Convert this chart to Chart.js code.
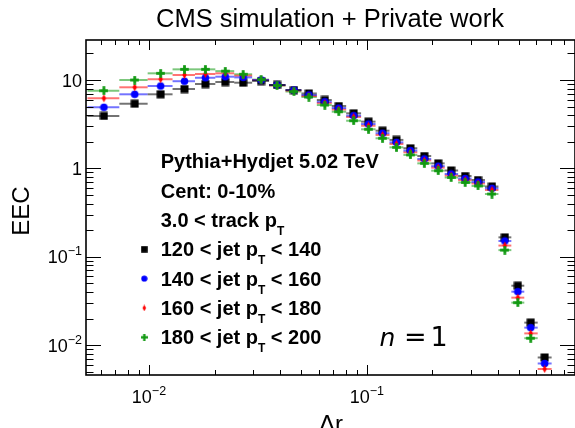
<!DOCTYPE html>
<html>
<head>
<meta charset="utf-8">
<script src="https://cdn.jsdelivr.net/npm/chart.js@4/dist/chart.umd.min.js"></script>
<style>
  html, body { margin: 0; padding: 0; background: #fff; overflow: hidden; }
  #wrap { width: 580px; height: 428px; }
</style>
</head>
<body>
<div id="wrap"><canvas id="eec" width="580" height="428"></canvas></div>
<script>
// ── DATA ───────────────────────────────────────────
const deltaR = [0.00621, 0.00860, 0.01131, 0.01455, 0.01815, 0.02240, 0.02706, 0.03271, 0.03870, 0.04627,
                0.05418, 0.06412, 0.07430, 0.08694, 0.1018, 0.1180, 0.1367, 0.1584, 0.1835, 0.2125,
                0.2437, 0.2825, 0.3238, 0.3750, 0.4299, 0.4929, 0.5650, 0.6546];
const binEdges = [0.00522, 0.00731, 0.00986, 0.01283, 0.01626, 0.02016, 0.02462, 0.02975, 0.03557, 0.04232,
                  0.05007, 0.05893, 0.06900, 0.08035, 0.09408, 0.1096, 0.1270, 0.1471, 0.1704, 0.1974,
                  0.2276, 0.2623, 0.3023, 0.3483, 0.4016, 0.4603, 0.5278, 0.6081, 0.7046];

const eecJet120 = [3.92, 5.39, 6.89, 7.91, 9.01, 9.49, 9.32, 9.74, 8.78, 7.70, 7.04, 5.94, 5.08, 4.20, 3.38,
                   2.67, 2.10, 1.69, 1.38, 1.14, 0.947, 0.820, 0.739, 0.624, 0.166, 0.0471, 0.0180, 0.00726];
const eecJet140 = [4.91, 6.89, 8.55, 9.69, 10.6, 10.9, 10.7, 10.0, 8.78, 7.70, 6.77, 5.68, 4.82, 3.95, 3.18,
                   2.50, 1.97, 1.59, 1.28, 1.06, 0.865, 0.769, 0.702, 0.596, 0.151, 0.0403, 0.0158, 0.00621];
const eecJet160 = [6.21, 8.27, 10.2, 11.4, 11.7, 11.9, 11.2, 10.0, 8.71, 7.60, 6.59, 5.49, 4.64, 3.82, 3.04,
                   2.39, 1.89, 1.52, 1.23, 1.02, 0.831, 0.739, 0.675, 0.570, 0.134, 0.0345, 0.0136, 0.00538];
const eecJet180 = [7.57, 10.0, 11.9, 13.2, 13.2, 12.6, 11.6, 10.1, 8.67, 7.41, 6.42, 5.21, 4.38, 3.46, 2.77,
                   2.19, 1.73, 1.42, 1.14, 0.942, 0.789, 0.693, 0.633, 0.513, 0.119, 0.0303, 0.0120, null];

const seriesLabels = ['120 < jet p|T| < 140', '140 < jet p|T| < 160', '160 < jet p|T| < 180', '180 < jet p|T| < 200'];
const infoLines    = ['Pythia+Hydjet 5.02 TeV', 'Cent: 0-10%', '3.0 < track p|T|'];

const xMajorTicks = [0.01, 0.1];
const xTickLabels = [['10', '\u22122'], ['10', '\u22121']];
const yMajorTicks = [0.01, 0.1, 1, 10];
const yTickLabels = [['10', '\u22122'], ['10', '\u22121'], ['1', ''], ['10', '']];

const X_RANGE = [0.00514, 0.902];
const Y_RANGE = [0.00460, 28.35];

const COLORS = ['#000000', '#0000ff', '#ff0000', '#119911'];

// ── MARKERS ────────────────────────────────────────
function makeMarker(kind, color, scale) {
  const s = scale || 1;
  const w = Math.round(9 * s), h = Math.round(9 * s);
  const c = document.createElement('canvas');
  c.width = w; c.height = h;
  const g = c.getContext('2d');
  g.fillStyle = color;
  const cx = w / 2, cy = h / 2;
  if (kind === 'square') {
    const a = 8 * s;
    g.fillRect(cx - a / 2, cy - a / 2, a, a);
  } else if (kind === 'circle') {
    g.beginPath(); g.arc(cx, cy, 3.8 * s, 0, Math.PI * 2); g.fill();
  } else if (kind === 'diamond') {
    g.beginPath();
    g.moveTo(cx, cy - 4 * s); g.lineTo(cx + 2.2 * s, cy);
    g.lineTo(cx, cy + 4 * s); g.lineTo(cx - 2.2 * s, cy);
    g.closePath(); g.fill();
  } else {
    const arm = 4.3 * s, t = 1.4 * s;
    g.fillRect(cx - arm, cy - t, 2 * arm, 2 * t);
    g.fillRect(cx - t, cy - arm, 2 * t, 2 * arm);
  }
  return c;
}
const KINDS = ['square', 'circle', 'diamond', 'cross'];
const markers = KINDS.map((k, i) => makeMarker(k, COLORS[i], 1));
const legendMarkers = KINDS.map((k, i) => makeMarker(k, COLORS[i], 0.82));

// ── TEXT HELPERS ───────────────────────────────────
// "a|T|b" draws T as a subscript
function drawSubText(ctx, str, x, y, size) {
  const parts = str.split('|');
  let cx = x;
  parts.forEach((p, i) => {
    if (i % 2 === 1) {
      ctx.font = `bold ${Math.round(size * 0.6)}px "Liberation Sans", Arial, sans-serif`;
      ctx.fillText(p, cx, y + size * 0.4);
    } else {
      ctx.font = `bold ${size}px "Liberation Sans", Arial, sans-serif`;
      ctx.fillText(p, cx, y);
    }
    cx += ctx.measureText(p).width;
  });
}

function powWidth(ctx, base, exp) {
  ctx.font = '18px "Liberation Sans", Arial, sans-serif';
  let w = ctx.measureText(base).width;
  ctx.font = '12.5px "Liberation Sans", Arial, sans-serif';
  return w + (exp ? ctx.measureText(exp).width : 0);
}
function drawPow(ctx, base, exp, x, baseline) {
  ctx.font = '18px "Liberation Sans", Arial, sans-serif';
  ctx.fillText(base, x, baseline);
  const bw = ctx.measureText(base).width;
  if (exp) {
    ctx.font = '12.5px "Liberation Sans", Arial, sans-serif';
    ctx.fillText(exp, x + bw, baseline - 8);
  }
}

// ── ERROR BARS (horizontal bin widths) ─────────────
const binBars = {
  id: 'binBars',
  beforeDatasetsDraw(chart) {
    const { ctx, chartArea: a, scales: { x, y } } = chart;
    ctx.save();
    ctx.beginPath(); ctx.rect(a.left, a.top, a.right - a.left, a.bottom - a.top); ctx.clip();
    ctx.lineWidth = 2;
    ctx.globalAlpha = 0.55;
    chart.data.datasets.slice().reverse().forEach(ds => {
      ctx.strokeStyle = ds.barColor;
      ds.data.forEach((p, i) => {
        if (p.y == null) return;
        const py = y.getPixelForValue(p.y);
        ctx.beginPath();
        ctx.moveTo(x.getPixelForValue(binEdges[i]), py);
        ctx.lineTo(x.getPixelForValue(binEdges[i + 1]), py);
        ctx.stroke();
      });
    });
    ctx.restore();
  }
};

// ── FRAME, TICKS, LABELS ───────────────────────────
const frame = {
  id: 'frame',
  afterDraw(chart) {
    const { ctx, chartArea: a, scales: { x, y } } = chart;
    ctx.save();
    ctx.strokeStyle = '#000';
    ctx.lineWidth = 1;
    const seg = (x0, y0, x1, y1) => { ctx.beginPath(); ctx.moveTo(x0, y0); ctx.lineTo(x1, y1); ctx.stroke(); };

    // y ticks, both sides
    for (let d = -3; d <= 1; d++) {
      for (let m = 1; m <= 9; m++) {
        const v = m * Math.pow(10, d);
        if (v < Y_RANGE[0] || v > Y_RANGE[1]) continue;
        const py = Math.round(y.getPixelForValue(v)) + 0.5;
        const len = m === 1 ? 15 : 7.5;
        seg(a.left, py, a.left + len, py);
        seg(a.right, py, a.right - len, py);
      }
    }
    // x ticks, top and bottom
    for (let d = -3; d <= 0; d++) {
      for (let m = 1; m <= 9; m++) {
        const v = m * Math.pow(10, d);
        if (v < X_RANGE[0] || v > X_RANGE[1]) continue;
        const px = Math.round(x.getPixelForValue(v)) + 0.5;
        const len = m === 1 ? 10 : 5;
        seg(px, a.bottom, px, a.bottom - len);
        seg(px, a.top, px, a.top + len);
      }
    }

    // frame
    ctx.lineWidth = 1.6;
    ctx.strokeRect(a.left, a.top, a.right - a.left, a.bottom - a.top);

    // tick labels
    ctx.fillStyle = '#000';
    ctx.textBaseline = 'alphabetic';
    ctx.textAlign = 'left';
    yMajorTicks.forEach((v, i) => {
      const [b, e] = yTickLabels[i];
      const py = y.getPixelForValue(v);
      const w = powWidth(ctx, b, e);
      drawPow(ctx, b, e, 82 - w, py + 6.5);
    });
    xMajorTicks.forEach((v, i) => {
      const [b, e] = xTickLabels[i];
      const px = x.getPixelForValue(v);
      const w = powWidth(ctx, b, e);
      drawPow(ctx, b, e, px - w / 2, 403);
    });

    // axis titles
    ctx.font = '24px "Liberation Sans", Arial, sans-serif';
    ctx.textAlign = 'center';
    ctx.fillText('\u0394r', 331, 432);
    ctx.save();
    ctx.translate(29, 211);
    ctx.rotate(-Math.PI / 2);
    ctx.fillText('EEC', 0, 0);
    ctx.restore();

    // title
    ctx.font = '25.5px "Liberation Sans", Arial, sans-serif';
    ctx.fillText('CMS simulation + Private work', 330, 26.5);

    // legend block
    ctx.textAlign = 'left';
    const lineGap = 29.33, base0 = 168.3, textX = 160.7;
    infoLines.forEach((t, i) => drawSubText(ctx, t, textX, base0 + i * lineGap, 20));
    seriesLabels.forEach((t, i) => {
      const bl = base0 + (i + 3) * lineGap;
      const m = legendMarkers[i];
      ctx.drawImage(m, 144.3 - m.width / 2, bl - 7 - m.height / 2);
      drawSubText(ctx, t, textX, bl, 20);
    });

    // n = 1
    ctx.font = 'oblique 25px "DejaVu Sans", sans-serif';
    ctx.fillText('n', 379.5, 345.5);
    ctx.font = '27px "DejaVu Sans", sans-serif';
    ctx.fillText('=', 404, 345.5);
    ctx.fillText('1', 430.5, 345.5);

    ctx.restore();
  }
};

// ── CHART ──────────────────────────────────────────
const seriesValues = [eecJet120, eecJet140, eecJet160, eecJet180];
const datasets = seriesValues.map((vals, i) => ({
  label: seriesLabels[i].replace(/\|/g, ''),
  data: deltaR.map((r, j) => ({ x: r, y: vals[j] })),
  pointStyle: markers[i],
  pointRadius: 4,
  showLine: false,
  barColor: COLORS[i],
  order: 4 - i
}));

new Chart(document.getElementById('eec'), {
  type: 'scatter',
  data: { datasets },
  options: {
    responsive: false,
    animation: false,
    events: [],
    layout: { padding: { left: 86, right: 2.5, top: 40, bottom: 53 } },
    plugins: { legend: { display: false }, tooltip: { enabled: false }, title: { display: false } },
    scales: {
      x: { type: 'logarithmic', min: X_RANGE[0], max: X_RANGE[1], display: false },
      y: { type: 'logarithmic', min: Y_RANGE[0], max: Y_RANGE[1], display: false }
    }
  },
  plugins: [binBars, frame]
});
</script>
</body>
</html>
